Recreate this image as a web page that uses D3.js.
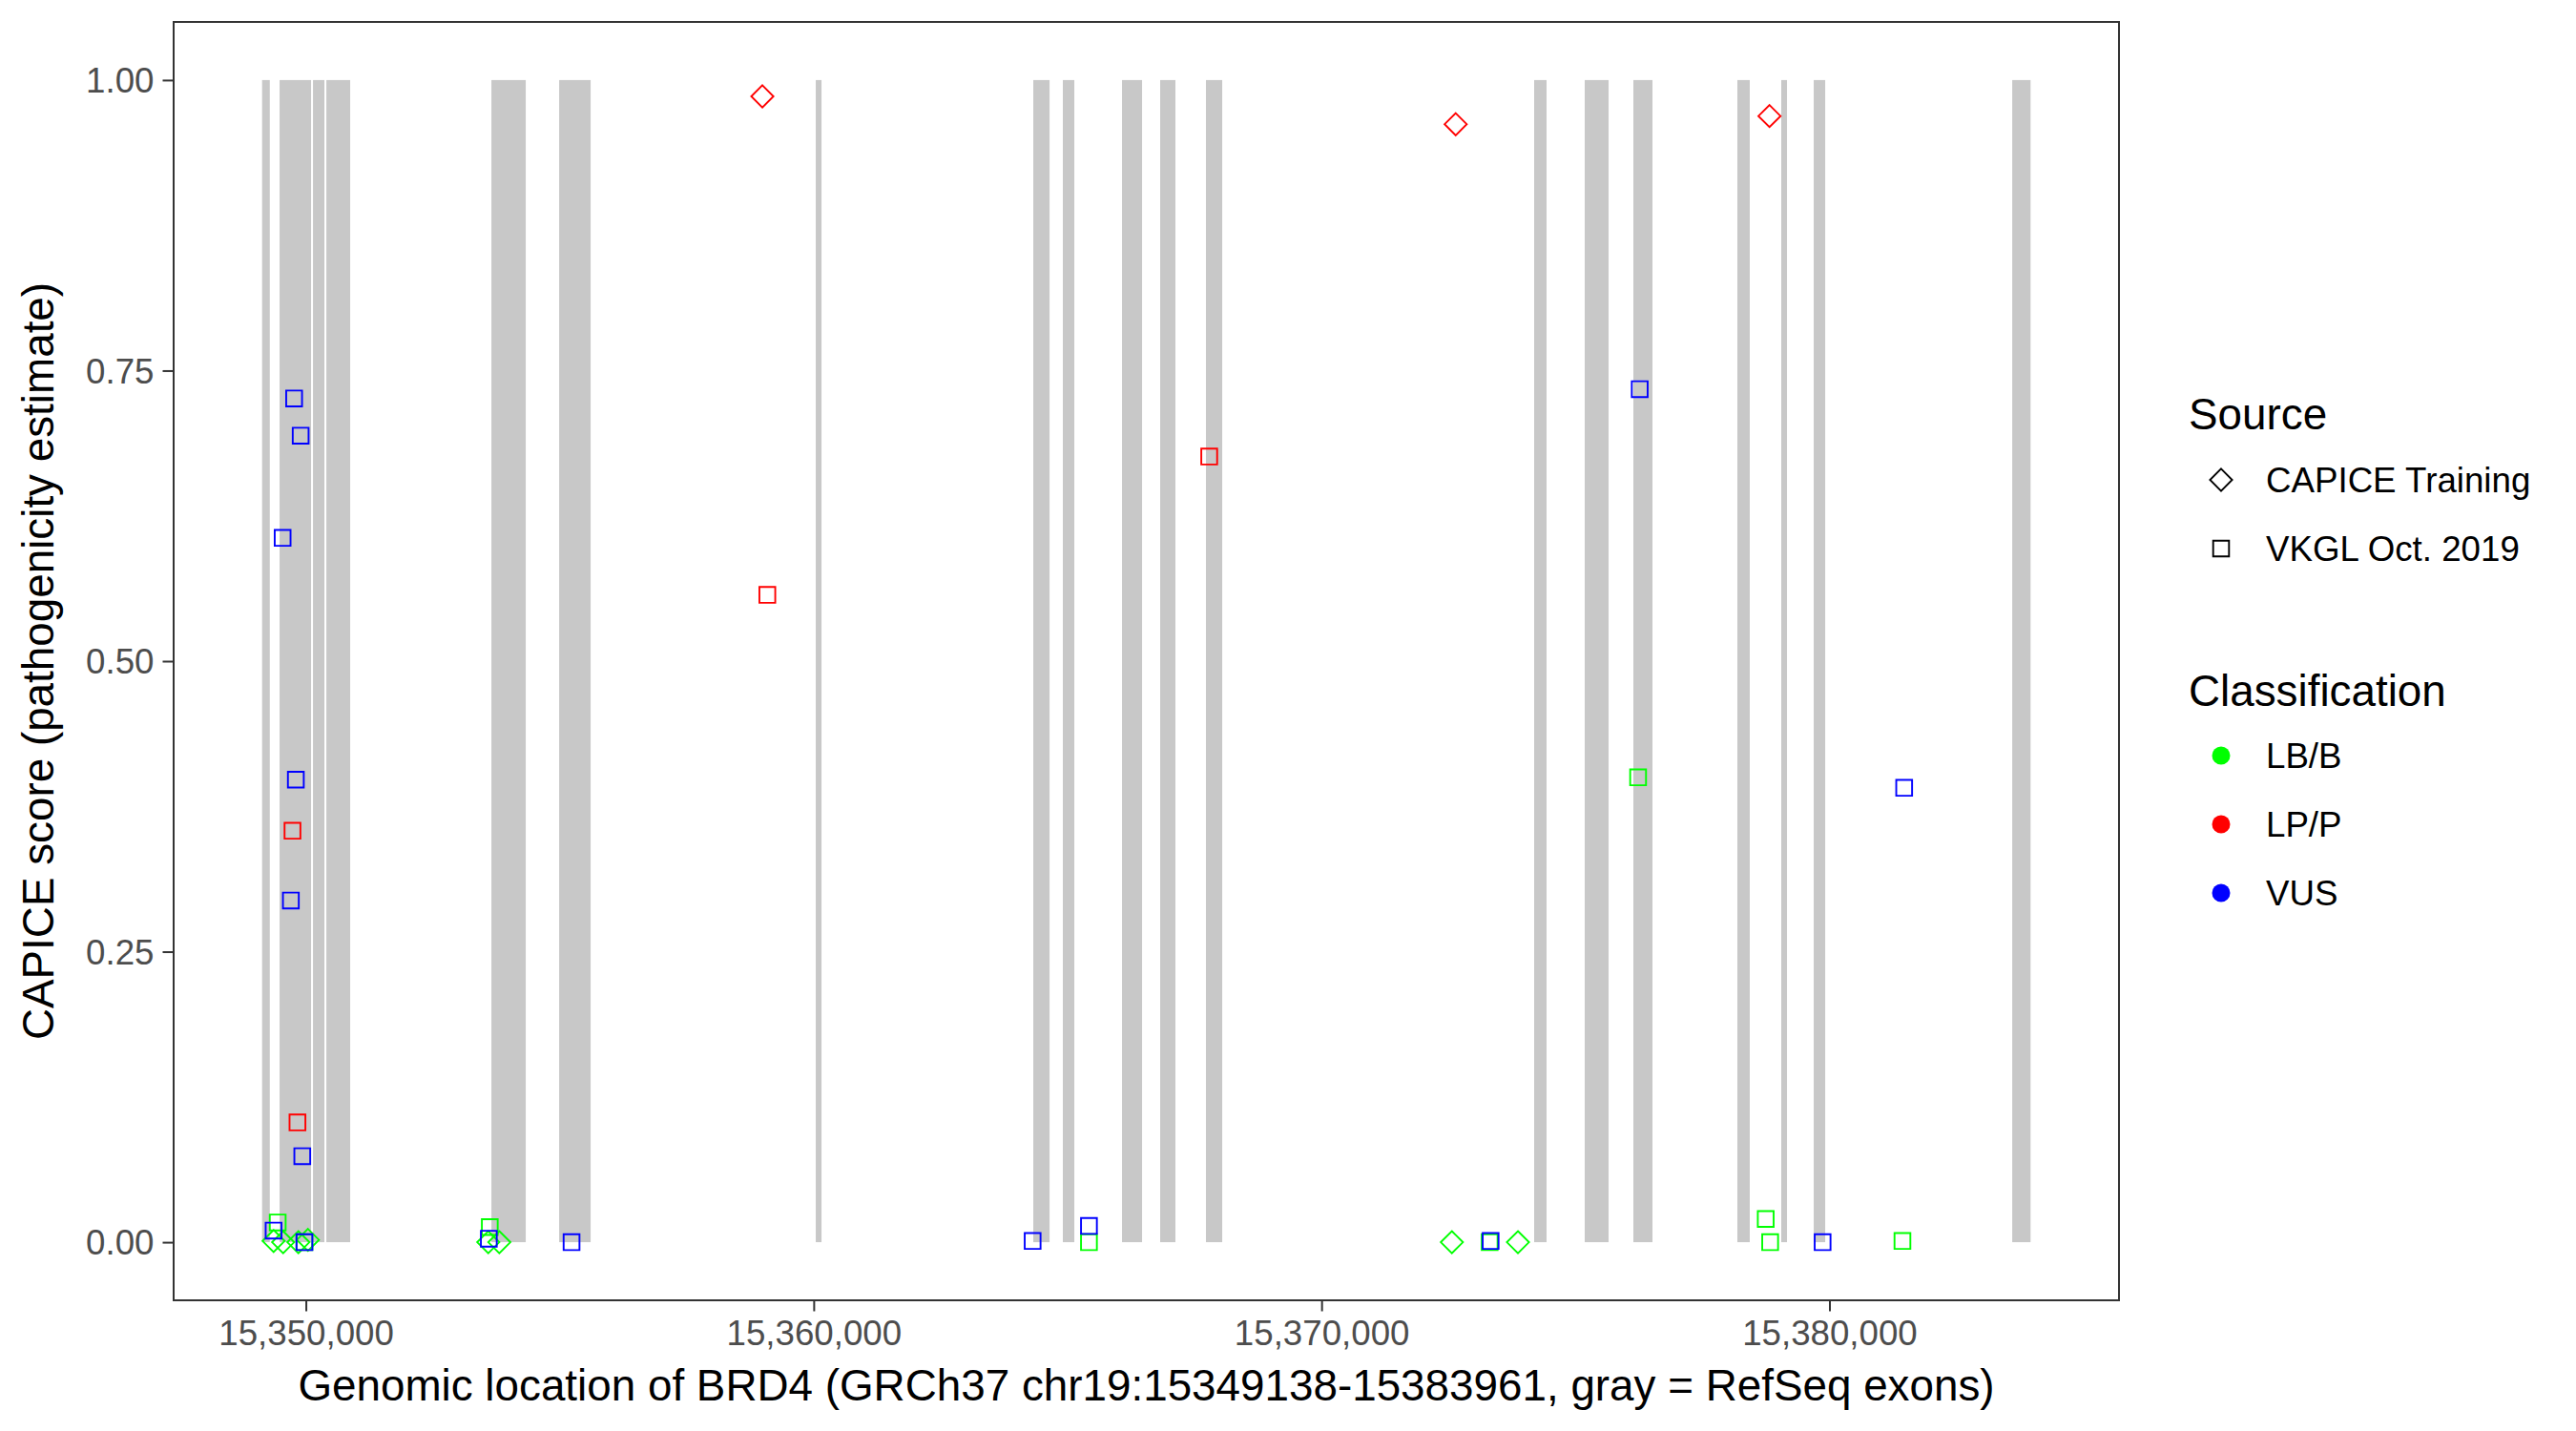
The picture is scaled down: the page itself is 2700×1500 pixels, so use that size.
<!DOCTYPE html>
<html>
<head>
<meta charset="utf-8">
<script src="https://cdn.jsdelivr.net/npm/d3@7"></script>
<style>
  html, body { margin: 0; padding: 0; background: #ffffff; }
  svg { display: block; }
  text { font-family: "Liberation Sans", Arial, Helvetica, sans-serif; }
</style>
</head>
<body>
<script>
// ---------------- DATA ----------------
const geneStart = 15349138;
const geneEnd = 15383961;

const exonStart = [15349138, 15349483, 15350141, 15350404, 15353654, 15354988, 15360041, 15364324, 15364906, 15366071, 15366822, 15367724, 15374186, 15375182, 15376140, 15378188, 15379052, 15379691, 15383600];
const exonEnd   = [15349290, 15350103, 15350366, 15350873, 15354330, 15355608, 15360154, 15364644, 15365132, 15366466, 15367123, 15368044, 15374430, 15375652, 15376516, 15378432, 15379165, 15379917, 15383961];

const variantPos = [
  // LB/B
  15349446, 15349365, 15349553, 15349853, 15350041, 15349972, 15353622, 15353592, 15353810,
  15365420, 15372566, 15373310, 15373867, 15378746, 15378833, 15381438, 15376233,
  // LP/P
  15349737, 15349835, 15358989, 15359087, 15367788, 15372641, 15378820,
  // VUS
  15349769, 15349898, 15349543, 15349803, 15349705, 15349930, 15349365, 15349972,
  15353603, 15355232, 15364311, 15365420, 15373329, 15379866, 15376265, 15381472
];
const variantScore = [
  0.017, 0.001, 0.000, 0.000, 0.002, 0.000, 0.013, 0.000, 0.000,
  0.000, 0.000, 0.000, 0.000, 0.020, 0.000, 0.001, 0.400,
  0.354, 0.103, 0.986, 0.557, 0.676, 0.962, 0.969,
  0.726, 0.694, 0.606, 0.398, 0.294, 0.074, 0.010, 0.000,
  0.003, 0.000, 0.001, 0.014, 0.001, 0.000, 0.734, 0.391
];
const variantSource = [
  "VKGL Oct. 2019", "CAPICE Training", "CAPICE Training", "CAPICE Training", "CAPICE Training", "VKGL Oct. 2019", "VKGL Oct. 2019", "CAPICE Training", "CAPICE Training",
  "VKGL Oct. 2019", "CAPICE Training", "VKGL Oct. 2019", "CAPICE Training", "VKGL Oct. 2019", "VKGL Oct. 2019", "VKGL Oct. 2019", "VKGL Oct. 2019",
  "VKGL Oct. 2019", "VKGL Oct. 2019", "CAPICE Training", "VKGL Oct. 2019", "VKGL Oct. 2019", "CAPICE Training", "CAPICE Training",
  "VKGL Oct. 2019", "VKGL Oct. 2019", "VKGL Oct. 2019", "VKGL Oct. 2019", "VKGL Oct. 2019", "VKGL Oct. 2019", "VKGL Oct. 2019", "VKGL Oct. 2019",
  "VKGL Oct. 2019", "VKGL Oct. 2019", "VKGL Oct. 2019", "VKGL Oct. 2019", "VKGL Oct. 2019", "VKGL Oct. 2019", "VKGL Oct. 2019", "VKGL Oct. 2019"
];
const variantClass = [
  "LB/B","LB/B","LB/B","LB/B","LB/B","LB/B","LB/B","LB/B","LB/B",
  "LB/B","LB/B","LB/B","LB/B","LB/B","LB/B","LB/B","LB/B",
  "LP/P","LP/P","LP/P","LP/P","LP/P","LP/P","LP/P",
  "VUS","VUS","VUS","VUS","VUS","VUS","VUS","VUS",
  "VUS","VUS","VUS","VUS","VUS","VUS","VUS","VUS"
];

const sourceLevels = ["CAPICE Training", "VKGL Oct. 2019"];
const classLevels = ["LB/B", "LP/P", "VUS"];
const classColors = ["#00FF00", "#FF0000", "#0000FF"];
const xTickValues = [15350000, 15360000, 15370000, 15380000];
const yTickValues = [0, 0.25, 0.5, 0.75, 1.0];

const xTitle = "Genomic location of BRD4 (GRCh37 chr19:15349138-15383961, gray = RefSeq exons)";
const yTitle = "CAPICE score (pathogenicity estimate)";

// ---------------- LAYOUT ----------------
const W = 2700, H = 1500;
const panel = { left: 182, right: 2221, top: 23, bottom: 1363 };
const axisTextSize = 36.7, titleSize = 45.8;

const svg = d3.select("body").append("svg").attr("width", W).attr("height", H);
svg.append("rect").attr("width", W).attr("height", H).attr("fill", "#ffffff");

const span = geneEnd - geneStart;
const x = d3.scaleLinear()
  .domain([geneStart - 0.05 * span, geneEnd + 0.05 * span])
  .range([panel.left, panel.right]);
const y = d3.scaleLinear().domain([-0.05, 1.05]).range([panel.bottom, panel.top]);
const color = d3.scaleOrdinal().domain(classLevels).range(classColors);

// exons
const exons = exonStart.map((s, i) => ({ s, e: exonEnd[i] }));
svg.append("g").selectAll("rect").data(exons).join("rect")
  .attr("x", d => x(d.s))
  .attr("width", d => Math.max(1, x(d.e) - x(d.s)))
  .attr("y", y(1))
  .attr("height", y(0) - y(1))
  .attr("fill", "#c8c8c8");

// points
const pts = variantPos.map((p, i) => ({ p, v: variantScore[i], src: variantSource[i], cls: variantClass[i] }));
const sq = 16.6, dia = 11.6, sw = 1.9;
function shapePath(src) {
  if (src === "CAPICE Training") {
    return `M0,${-dia}L${dia},0L0,${dia}L${-dia},0Z`;
  }
  const h = sq / 2;
  return `M${-h},${-h}L${h},${-h}L${h},${h}L${-h},${h}Z`;
}
svg.append("g").selectAll("path").data(pts).join("path")
  .attr("transform", d => `translate(${x(d.p)},${y(d.v)})`)
  .attr("d", d => shapePath(d.src))
  .attr("fill", "none")
  .attr("stroke", d => color(d.cls))
  .attr("stroke-width", sw);

// panel border
svg.append("rect")
  .attr("x", panel.left).attr("y", panel.top)
  .attr("width", panel.right - panel.left).attr("height", panel.bottom - panel.top)
  .attr("fill", "none").attr("stroke", "#333333").attr("stroke-width", 2);

// axes
const fmtX = d3.format(",");
const xAxis = svg.append("g").attr("transform", `translate(0,${panel.bottom})`)
  .call(d3.axisBottom(x).tickValues(xTickValues).tickFormat(fmtX).tickSize(11.5).tickPadding(9));
const yAxis = svg.append("g").attr("transform", `translate(${panel.left},0)`)
  .call(d3.axisLeft(y).tickValues(yTickValues).tickFormat(d3.format(".2f")).tickSize(11.5).tickPadding(9));
[xAxis, yAxis].forEach(a => {
  a.select(".domain").remove();
  a.selectAll(".tick line").attr("stroke", "#333333").attr("stroke-width", 2);
  a.selectAll(".tick text")
    .attr("fill", "#4D4D4D")
    .style("font-size", axisTextSize + "px")
    .style("font-family", '"Liberation Sans", Arial, sans-serif');
});
xAxis.selectAll(".tick text").attr("dy", "0.72em");
yAxis.selectAll(".tick text").attr("dy", "0.35em");

// axis titles
svg.append("text")
  .attr("x", (panel.left + panel.right) / 2).attr("y", 1468)
  .attr("text-anchor", "middle").attr("fill", "#000")
  .style("font-size", titleSize + "px").text(xTitle);
svg.append("text")
  .attr("transform", `translate(56,${(panel.top + panel.bottom) / 2}) rotate(-90)`)
  .attr("text-anchor", "middle").attr("fill", "#000")
  .style("font-size", titleSize + "px").text(yTitle);

// legends
const lg = svg.append("g");
const keyX = 2328, labX = 2375, titleX = 2294;
lg.append("text").attr("x", titleX).attr("y", 450).style("font-size", titleSize + "px").text("Source");
sourceLevels.forEach((s, i) => {
  const cy = 503 + i * 72;
  lg.append("path").attr("transform", `translate(${keyX},${cy})`).attr("d", shapePath(s))
    .attr("fill", "none").attr("stroke", "#000").attr("stroke-width", sw);
  lg.append("text").attr("x", labX).attr("y", cy).attr("dy", "0.36em")
    .style("font-size", axisTextSize + "px").text(s);
});
lg.append("text").attr("x", titleX).attr("y", 740).style("font-size", titleSize + "px").text("Classification");
classLevels.forEach((c, i) => {
  const cy = 792 + i * 72;
  lg.append("circle").attr("cx", keyX).attr("cy", cy).attr("r", 9.5).attr("fill", color(c));
  lg.append("text").attr("x", labX).attr("y", cy).attr("dy", "0.36em")
    .style("font-size", axisTextSize + "px").text(c);
});
</script>
</body>
</html>
